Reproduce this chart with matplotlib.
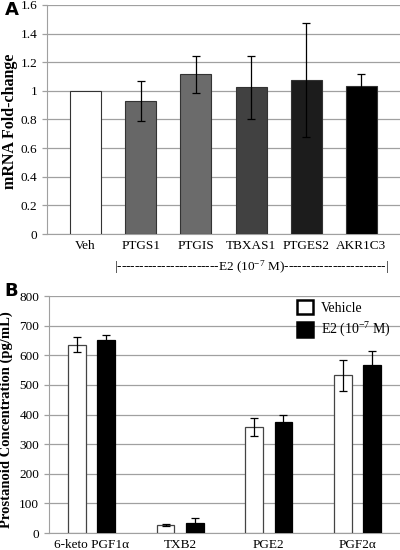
import numpy as np
import matplotlib.pyplot as plt

plt.rcParams['font.family'] = ['Liberation Serif', 'DejaVu Serif']
plt.rcParams['mathtext.fontset'] = 'custom'
plt.rcParams['mathtext.rm'] = 'Liberation Serif'
plt.rcParams['mathtext.it'] = 'Liberation Serif:italic'

# Panel A data
genes = ['Veh', 'PTGS1', 'PTGIS', 'TBXAS1', 'PTGES2', 'AKR1C3']
fold = [1.0, 0.93, 1.115, 1.025, 1.075, 1.035]
fold_err = [0.0, 0.14, 0.13, 0.22, 0.40, 0.08]
gene_colors = ['white', '#676767', '#6b6b6b', '#414141', '#1c1c1c', '#000000']

# Panel B data
prostanoids = ['6-keto PGF1α', 'TXB2', 'PGE2', 'PGF2α']
vehicle = [636, 28, 357, 533]
vehicle_err = [24, 4, 30, 52]
e2 = [650, 35, 375, 568]
e2_err = [20, 14, 22, 48]

fig = plt.figure(figsize=(4, 5.5), dpi=100)

grid_c = '#a0a0a0'
fs = 9.5

# ---- Panel A ----
axA = fig.add_axes([0.1175, 0.5745, 0.8825, 0.4165])
x = np.arange(len(genes))
axA.bar(x, fold, width=0.56, color=gene_colors, edgecolor='#333333', linewidth=0.8, zorder=3)
axA.errorbar(x[1:], fold[1:], yerr=fold_err[1:], fmt='none', ecolor='black',
             elinewidth=0.9, capsize=3, capthick=0.9, zorder=4)
axA.set_xlim(-0.7, 5.7)
axA.set_ylim(0, 1.6)
axA.set_yticks(np.arange(0, 1.61, 0.2))
axA.set_yticklabels(['0', '0.2', '0.4', '0.6', '0.8', '1', '1.2', '1.4', '1.6'])
axA.set_xticks(x)
axA.set_xticklabels(genes)
axA.set_ylabel('mRNA Fold-change', fontweight='bold', fontsize=11.5)
axA.yaxis.set_label_coords(-0.082, 0.49)
axA.text(3.0, -0.23, '|' + '-' * 23 + 'E2 (10$^{-7}$ M)' + '-' * 23 + '|',
         ha='center', va='center', fontsize=fs, clip_on=False)
fig.text(0.012, 0.982, 'A', fontsize=13, fontweight='bold', family='DejaVu Sans',
         va='center')

# ---- Panel B ----
axB = fig.add_axes([0.1225, 0.0309, 0.8775, 0.4309])
xb = np.arange(len(prostanoids))
off = 0.165
bw = 0.2
axB.bar(xb - off, vehicle, width=bw, color='white', edgecolor='#444444',
        linewidth=0.9, zorder=3, label='Vehicle')
axB.bar(xb + off, e2, width=bw, color='black', edgecolor='black',
        linewidth=0.9, zorder=3, label='E2 (10$^{-7}$ M)')
axB.errorbar(xb - off, vehicle, yerr=vehicle_err, fmt='none', ecolor='black',
             elinewidth=0.9, capsize=3, capthick=0.9, zorder=4)
axB.errorbar(xb + off, e2, yerr=e2_err, fmt='none', ecolor='black',
             elinewidth=0.9, capsize=3, capthick=0.9, zorder=4)
axB.set_xlim(-0.48, 3.48)
axB.set_ylim(0, 800)
axB.set_yticks(np.arange(0, 801, 100))
axB.set_xticks(xb)
axB.set_xticklabels(prostanoids)
axB.set_ylabel('Prostanoid Concentration (pg/mL)', fontweight='bold', fontsize=10.5)
axB.yaxis.set_label_coords(-0.103, 0.477)
leg = axB.legend(loc='upper left', bbox_to_anchor=(0.70, 0.995), frameon=False,
                 fontsize=10, handlelength=1.1, handleheight=1.2,
                 handletextpad=0.6, labelspacing=0.45, borderaxespad=0,
                 borderpad=0.2)
for h in leg.legend_handles:
    h.set_edgecolor('black')
    h.set_linewidth(1.8)
fig.text(0.012, 0.47, 'B', fontsize=13, fontweight='bold', family='DejaVu Sans',
         va='center')

for ax in (axA, axB):
    ax.grid(axis='y', color=grid_c, linewidth=0.9, zorder=0)
    ax.set_axisbelow(True)
    for s in ('top', 'right'):
        ax.spines[s].set_visible(False)
    ax.spines['left'].set_color(grid_c)
    ax.spines['bottom'].set_color(grid_c)
    ax.tick_params(axis='both', labelsize=fs)
    ax.tick_params(axis='y', length=3.5, width=0.9, color=grid_c, pad=3.5)
    ax.tick_params(axis='x', length=0, pad=4)

fig.savefig('out.png', dpi=100)
